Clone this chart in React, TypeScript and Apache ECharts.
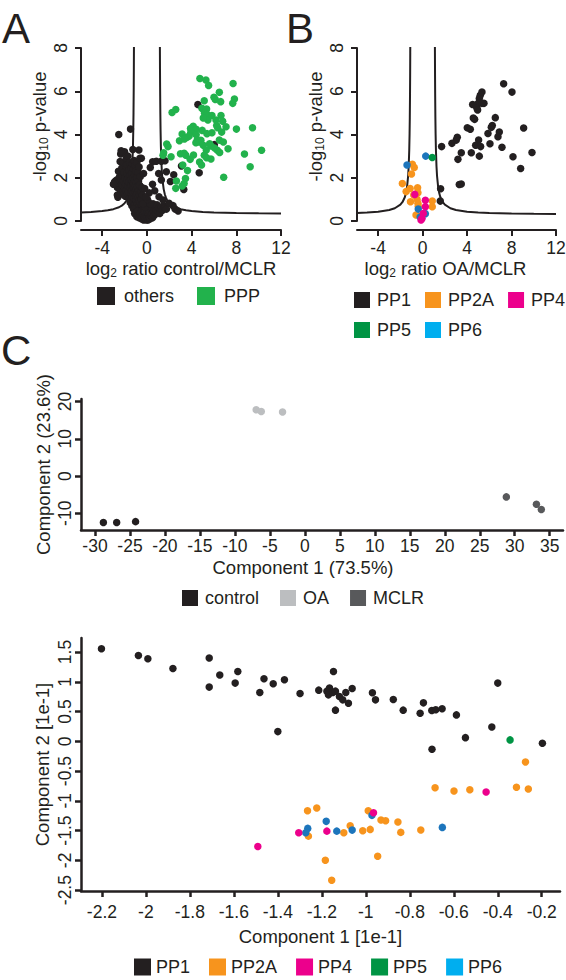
import React, { useEffect, useRef } from "react";
import * as echarts from "echarts";

const INK = "#231f20";
const FONT = "Liberation Sans";
const C_GREEN = "#22b24c";
const C_ORANGE = "#f7941d";
const C_PINK = "#ec008c";
const C_PP5 = "#009444";
const C_PP6_PT = "#1c75bc";
const C_PP6_LEG = "#00aeef";
const C_OA = "#bcbec0";
const C_MCLR = "#58595b";

// ---------- Panel A (volcano control/MCLR) ----------
const aOthers: number[][] = [
  [-2.8, 1.85], [-2.75, 1.7], [-2.7, 1.9], [-2.65, 1.55], [-2.6, 1.1], [-2.55, 2.3], [-2.5, 1.75], [-2.45, 2.05], [-2.4, 2.75], [-2.4, 1.45],
  [-2.35, 3.1], [-2.3, 1.9], [-2.3, 1.25], [-2.25, 2.45], [-2.2, 1.65], [-2.2, 2.1], [-2.15, 1.35], [-2.1, 2.7], [-2.1, 1.85], [-2.05, 2.25],
  [-2.0, 1.5], [-2.0, 3.2], [-1.95, 2.0], [-1.95, 1.15], [-1.9, 2.55], [-1.9, 1.7], [-1.85, 2.9], [-1.85, 1.4], [-1.8, 2.2], [-1.8, 1.9],
  [-1.75, 1.25], [-1.75, 2.6], [-1.7, 1.6], [-1.7, 3.0], [-1.65, 2.0], [-1.65, 1.35], [-1.6, 2.35], [-1.6, 1.8],
  [-1.55, 1.05], [-1.55, 2.7], [-1.5, 1.55], [-1.5, 2.1], [-1.5, 0.85], [-1.45, 1.3], [-1.45, 1.9], [-1.4, 2.45], [-1.4, 1.0], [-1.4, 1.65],
  [-1.35, 2.2], [-1.35, 0.7], [-1.35, 1.4], [-1.3, 1.85], [-1.3, 2.65], [-1.3, 1.1], [-1.25, 1.6], [-1.25, 2.0], [-1.25, 0.9], [-1.2, 2.4],
  [-1.2, 1.3], [-1.2, 1.75], [-1.15, 2.8], [-1.15, 1.5], [-1.15, 1.05], [-1.1, 2.1], [-1.1, 0.75], [-1.1, 1.9], [-1.05, 1.35], [-1.05, 2.55],
  [-1.05, 1.6], [-1.0, 1.15], [-1.0, 2.3], [-1.0, 0.6], [-0.95, 1.8], [-0.95, 1.45], [-0.95, 0.95], [-0.9, 2.0], [-0.9, 1.25], [-0.9, 2.7],
  [-0.85, 1.6], [-0.85, 0.8], [-0.8, 1.1], [-0.8, 2.25], [-0.8, 0.5], [-0.75, 1.4], [-0.75, 1.85], [-0.7, 0.95], [-0.7, 2.5], [-0.7, 0.65],
  [-0.65, 1.2], [-0.65, 1.65], [-0.6, 0.85], [-0.6, 2.05], [-0.55, 0.55], [-0.55, 1.35], [-0.5, 1.0], [-0.5, 2.9], [-0.45, 0.75], [-0.45, 1.55],
  [-0.4, 0.4], [-0.4, 1.2],
  [-1.2, 0.55], [-1.1, 0.35], [-1.0, 0.3], [-0.9, 0.2], [-0.85, 0.45], [-0.75, 0.25], [-0.7, 0.15], [-0.6, 0.35], [-0.55, 0.2], [-0.5, 0.1],
  [-0.45, 0.5], [-0.4, 0.15], [-0.35, 0.3], [-0.3, 0.05], [-0.3, 0.6], [-0.25, 0.2], [-0.2, 0.4], [-0.15, 0.1], [-0.1, 0.25], [-0.05, 0.05],
  [0.0, 0.35], [0.0, 0.15], [0.05, 0.5], [0.1, 0.05], [0.15, 0.3], [0.2, 0.15], [0.2, 0.7], [0.25, 0.45], [0.3, 0.1], [0.35, 0.25],
  [0.4, 0.55], [0.45, 0.35], [0.5, 0.15], [0.55, 0.8], [0.6, 0.45], [0.65, 0.25], [0.7, 0.6], [0.8, 0.35], [0.85, 0.5], [0.9, 0.75],
  [1.0, 0.45], [1.05, 0.6], [1.15, 0.35], [1.2, 0.55], [1.3, 0.65], [1.4, 0.5], [1.5, 0.7], [1.6, 0.6], [1.75, 0.55], [-0.15, 0.65],
  [-0.1, 0.85], [0.1, 0.9], [-0.35, 0.8], [0.3, 0.8], [0.05, 1.0],
  [-2.52, 4.0], [-1.47, 4.25], [-0.72, 3.28], [-1.26, 3.31], [-2.31, 3.25], [-0.63, 2.9], [4.56, 5.39], [6.03, 3.53], [4.68, 2.23], [3.09, 2.54],
  [3.3, 1.46], [2.4, 2.14], [0.51, 2.74], [0.84, 2.76], [1.29, 2.76], [1.62, 2.79], [0.3, 2.47], [1.05, 2.2], [1.74, 2.28], [1.29, 1.9],
  [2.1, 1.83], [2.52, 0.55], [2.34, 0.71], [2.79, 0.46], [1.98, 0.82], [1.44, 0.97], [1.08, 1.12], [0.2, 1.3], [0.5, 1.7], [-0.2, 1.5],
  [-0.3, 2.2], [-0.1, 1.1], [0.7, 1.4], [-2.9, 1.8], [-3.0, 1.7], [-2.65, 1.2],
];
const aPPP: number[][] = [
  [4.74, 6.59], [5.28, 6.52], [5.52, 6.27], [7.71, 6.36], [6.48, 5.95], [6.0, 5.72], [6.12, 5.62], [6.6, 5.52], [7.83, 5.64], [7.68, 5.44],
  [5.13, 5.56], [4.92, 5.21], [5.1, 5.12], [5.34, 5.18], [5.16, 4.98], [5.4, 4.92], [2.58, 5.16], [2.25, 5.02], [5.46, 4.67], [5.82, 4.88],
  [6.63, 4.88], [6.78, 4.61], [6.18, 4.67], [5.04, 4.76], [6.24, 4.42], [6.33, 4.31], [7.08, 4.36], [8.01, 4.25], [9.45, 4.31], [4.14, 4.38],
  [3.9, 4.28], [4.41, 4.24], [3.93, 4.1], [4.95, 4.19], [4.41, 3.99], [5.37, 4.04], [5.82, 4.08], [6.69, 4.11], [3.15, 4.02], [3.6, 3.87],
  [3.78, 3.93], [2.91, 3.71], [3.36, 3.79], [4.5, 3.74], [4.68, 3.65], [4.83, 3.73], [4.38, 3.62], [5.04, 3.5], [5.61, 3.57], [5.73, 3.47],
  [6.48, 3.74], [6.84, 3.65], [7.26, 3.34], [1.77, 3.56], [1.89, 3.44], [6.3, 3.27], [6.51, 3.17], [5.31, 3.28], [5.13, 3.04], [5.34, 2.93],
  [5.73, 2.87], [4.17, 3.05], [3.87, 2.85], [3.0, 3.11], [3.33, 3.13], [3.48, 3.04], [2.16, 2.97], [10.26, 3.27], [8.73, 3.1], [4.71, 2.73],
  [4.89, 2.59], [3.21, 2.59], [9.24, 2.51], [3.45, 1.96], [2.64, 1.85], [3.33, 1.73], [3.15, 1.62], [2.58, 1.51], [6.87, 2.02], [1.44, 3.04],
  [1.5, 3.16], [3.63, 2.33], [6.06, 3.37],
];
const aCurveL: number[][] = [
  [-5.9, 0.398], [-5, 0.42], [-4, 0.462], [-3.5, 0.496], [-3, 0.547], [-2.5, 0.636], [-2.25, 0.71], [-2, 0.82], [-1.8, 0.97], [-1.7, 1.08],
  [-1.6, 1.24], [-1.5, 1.475], [-1.4, 1.87], [-1.35, 2.18], [-1.3, 2.65], [-1.25, 3.43], [-1.22, 4.22], [-1.2, 5.0], [-1.18, 6.18], [-1.17, 7.01], [-1.16, 8.13],
];
const aCurveR: number[][] = [
  [1.16, 8.13], [1.17, 7.01], [1.18, 6.18], [1.2, 5.0], [1.22, 4.22], [1.25, 3.43], [1.3, 2.65], [1.35, 2.18], [1.4, 1.87], [1.5, 1.475],
  [1.6, 1.24], [1.7, 1.08], [1.8, 0.97], [2, 0.82], [2.25, 0.71], [2.5, 0.636], [3, 0.547], [3.5, 0.496], [4, 0.462], [5, 0.42],
  [6, 0.396], [8, 0.368], [10, 0.353], [12, 0.343],
];

// ---------- Panel B (volcano OA/MCLR) ----------
const bPP1: number[][] = [
  [7.29, 6.35], [8.04, 5.96], [5.34, 5.96], [5.19, 5.81], [5.1, 5.67], [5.52, 5.44], [5.01, 5.44], [4.5, 5.39], [4.89, 5.21], [4.95, 5.13],
  [4.56, 4.76], [4.68, 4.7], [6.54, 4.78], [6.27, 4.42], [6.18, 4.33], [9.09, 4.3], [4.02, 4.31], [4.29, 4.24], [5.88, 4.05], [6.9, 4.11],
  [6.78, 3.9], [5.04, 3.74], [3.12, 3.87], [3.03, 3.74], [2.64, 3.59], [4.77, 3.5], [5.22, 3.44], [6.06, 3.57], [7.14, 3.41], [1.71, 3.44],
  [3.48, 3.16], [4.38, 3.16], [5.1, 3.0], [8.13, 2.97], [9.84, 3.17], [3.18, 2.85], [8.82, 2.43], [3.48, 1.71], [3.3, 1.69], [1.62, 1.49],
  [1.59, 0.92], [5.34, 5.44],
];
const bPP2A: number[][] = [
  [-0.92, 2.62], [-0.75, 2.47], [-1.0, 2.17], [-1.82, 1.73], [-1.48, 1.36], [-1.12, 1.5], [-0.45, 1.54], [-0.42, 1.31], [-1.09, 0.89],
  [-0.5, 1.0], [-0.42, 0.82], [-0.39, 0.68], [0.87, 0.92], [0.87, 0.66], [-0.59, 0.28], [-0.2, 0.22], [0.15, 0.35], [-0.8, 1.2],
];
const bPP4: number[][] = [[-0.7, 1.23], [0.25, 0.96], [0.25, 0.66], [0.06, 0.35], [-0.06, 0.11], [-0.14, 0.05]];
const bPP5: number[][] = [[0.87, 2.94]];
const bPP6: number[][] = [[-1.4, 2.59], [0.28, 3.0], [-0.39, 0.55], [-0.22, 0.18], [0.25, 0.34], [-0.08, 0.12]];
const bCurveL: number[][] = [
  [-5.9, 0.373], [-5, 0.394], [-4, 0.433], [-3, 0.51], [-2.5, 0.59], [-2, 0.754], [-1.8, 0.88], [-1.6, 1.1], [-1.5, 1.28], [-1.4, 1.57],
  [-1.3, 2.08], [-1.25, 2.53], [-1.2, 3.28], [-1.17, 4.03], [-1.15, 4.78], [-1.13, 5.9], [-1.12, 6.71], [-1.11, 7.78], [-1.1, 9.28],
];
const bCurveR: number[][] = [
  [1.1, 9.28], [1.11, 7.78], [1.12, 6.71], [1.13, 5.9], [1.15, 4.78], [1.17, 4.03], [1.2, 3.28], [1.25, 2.53], [1.3, 2.08], [1.4, 1.57],
  [1.5, 1.28], [1.6, 1.1], [1.8, 0.88], [2, 0.754], [2.5, 0.59], [3, 0.51], [4, 0.433], [5, 0.394], [6, 0.371], [8, 0.345], [10, 0.33], [12, 0.321],
];

// ---------- Panel C (PCA of samples) ----------
const cControl: number[][] = [[-28.8, -12.5], [-26.9, -12.5], [-24.2, -12.25]];
const cOA: number[][] = [[-6.96, 17.8], [-6.23, 17.35], [-3.19, 17.2]];
const cMCLR: number[][] = [[28.8, -5.6], [33.1, -7.6], [33.8, -9.0]];

// ---------- Panel D (PCA of phosphatases) ----------
const dPP1: number[][] = [
  [-2.202, 1.556], [-2.034, 1.443], [-1.991, 1.387], [-1.877, 1.224], [-1.712, 1.399], [-1.712, 0.911], [-1.664, 1.113], [-1.594, 0.978],
  [-1.582, 1.174], [-1.482, 0.82], [-1.463, 1.05], [-1.421, 0.966], [-1.4, 0.163], [-1.37, 1.034], [-1.299, 0.803], [-1.214, 0.86],
  [-1.177, 0.843], [-1.165, 0.894], [-1.147, 1.174], [-1.17, 0.781], [-1.15, 0.82], [-1.138, 0.843], [-1.138, 0.524], [-1.12, 0.753],
  [-1.105, 0.697], [-1.091, 0.82], [-1.079, 0.641], [-1.062, 0.887], [-0.97, 0.815], [-0.956, 0.697], [-0.875, 0.702], [-0.83, 0.524],
  [-0.753, 0.473], [-0.738, 0.646], [-0.7, 0.517], [-0.682, 0.529], [-0.653, 0.546], [-0.699, -0.133], [-0.588, 0.444], [-0.547, 0.062],
  [-0.427, 0.242], [-0.4, 0.978], [-0.197, -0.032],
];
const dPP2A: number[][] = [
  [-0.274, -0.347], [-0.685, -0.779], [-0.599, -0.835], [-0.527, -0.813], [-0.315, -0.773], [-0.261, -0.801], [-1.265, -1.167],
  [-1.223, -1.121], [-1.261, -1.593], [-1.1, -1.537], [-1.071, -1.419], [-1.184, -1.997], [-1.155, -2.333], [-0.989, -1.167],
  [-1.014, -1.503], [-0.98, -1.48], [-0.931, -1.323], [-0.91, -1.335], [-0.854, -1.357], [-0.841, -1.53], [-0.75, -1.491], [-0.946, -1.93],
];
const dPP4: number[][] = [[-0.453, -0.852], [-1.305, -1.537], [-1.177, -1.509], [-1.491, -1.766], [-0.965, -1.2]];
const dPP5: number[][] = [[-0.344, 0.024]];
const dPP6: number[][] = [[-1.18, -1.345], [-1.264, -1.463], [-1.273, -1.537], [-1.132, -1.509], [-1.062, -1.492], [-0.972, -1.244], [-0.652, -1.446]];

// ---------- ticks ----------
const xTicksAB = [-4, 0, 4, 8, 12];
const yTicksAB = [0, 2, 4, 6, 8];
const xTicksC = [-30, -25, -20, -15, -10, -5, 0, 5, 10, 15, 20, 25, 30, 35];
const yTicksC = [-10, 0, 10, 20];
const xTicksD = [-2.2, -2, -1.8, -1.6, -1.4, -1.2, -1, -0.8, -0.6, -0.4, -0.2];
const yTicksD = [-2.5, -2, -1.5, -1, -0.5, 0, 0.5, 1, 1.5];

const rich = {
  n: { fontSize: 18.5, lineHeight: 22, fontFamily: FONT, color: INK },
  s: { fontSize: 12, lineHeight: 12, verticalAlign: "bottom", fontFamily: FONT, color: INK },
};

function axis(o: any) {
  const lw = o.lw ?? 2;
  return {
    type: "value",
    gridIndex: o.grid,
    min: o.min,
    max: o.max,
    offset: o.offset ?? 0,
    splitLine: { show: false },
    axisLine: { show: true, onZero: false, lineStyle: { color: INK, width: lw } },
    axisTick: { show: true, length: 6, lineStyle: { color: INK, width: lw }, customValues: o.ticks },
    axisLabel: {
      show: o.showLabel !== false,
      customValues: o.ticks,
      margin: o.margin ?? 8,
      color: INK,
      fontSize: 17.5,
      fontFamily: FONT,
    },
    name: o.name,
    nameLocation: "middle",
    nameGap: o.nameGap,
    nameTextStyle: { color: INK, fontFamily: FONT, fontSize: 18.5, padding: o.namePad ?? 0, rich },
  };
}

// rotated y tick labels, placed through the axis scale
function yLabels(idx: number, xAt: number, ticks: number[], dx: number) {
  return {
    type: "custom",
    name: "ylab" + idx,
    xAxisIndex: idx,
    yAxisIndex: idx,
    clip: false,
    silent: true,
    z: 5,
    data: ticks.map((v) => [xAt, v]),
    renderItem: (_params: any, api: any) => {
      const p = api.coord([api.value(0), api.value(1)]);
      return {
        type: "text",
        x: p[0] - dx,
        y: p[1],
        rotation: Math.PI / 2,
        style: {
          text: String(api.value(1)),
          fontSize: 17.5,
          fontFamily: FONT,
          fill: INK,
          align: "center",
          verticalAlign: "middle",
        },
      };
    },
  };
}

function scatter(name: string, data: number[][], idx: number, color: string, z = 3) {
  return {
    type: "scatter",
    name,
    data,
    xAxisIndex: idx,
    yAxisIndex: idx,
    symbol: "circle",
    symbolSize: 7.5,
    itemStyle: { color, opacity: 1 },
    z,
    silent: true,
  };
}

function curve(name: string, data: number[][], idx: number) {
  return {
    type: "line",
    name,
    data,
    xAxisIndex: idx,
    yAxisIndex: idx,
    showSymbol: false,
    symbol: "none",
    lineStyle: { color: INK, width: 2 },
    clip: true,
    z: 2,
    silent: true,
  };
}

const legendText = (pad: number) => ({ color: INK, fontSize: 18, fontFamily: FONT, padding: [0, 0, 0, pad] });

const option: any = {
  animation: false,
  backgroundColor: "#ffffff",
  grid: [
    { left: 81, top: 48, width: 200, height: 173, containLabel: false, outerBoundsMode: "none" },
    { left: 357, top: 48, width: 199, height: 173, containLabel: false, outerBoundsMode: "none" },
    { left: 81, top: 399, width: 482, height: 131, containLabel: false, outerBoundsMode: "none" },
    { left: 81, top: 638, width: 479, height: 253, containLabel: false, outerBoundsMode: "none" },
  ],
  xAxis: [
    axis({ grid: 0, min: -5.9, max: 12, offset: 9, ticks: xTicksAB, margin: 9, name: "{n|log}{s|2}{n| ratio control/MCLR}", nameGap: 27 }),
    axis({ grid: 1, min: -5.9, max: 12, offset: 9, ticks: xTicksAB, margin: 9, name: "{n|log}{s|2}{n| ratio OA/MCLR}", nameGap: 27, namePad: [0, 22, 0, 0] }),
    axis({ grid: 2, min: -32, max: 36.9, ticks: xTicksC, margin: 7, lw: 2.5, name: "{n|Component 1 (73.5%)}", nameGap: 26, namePad: [0, 38, 0, 0] }),
    axis({ grid: 3, min: -2.295, max: -0.117, ticks: xTicksD, margin: 12, lw: 2.5, name: "{n|Component 1 [1e-1]}", nameGap: 34 }),
  ],
  yAxis: [
    axis({ grid: 0, min: 0, max: 8, ticks: yTicksAB, showLabel: false, name: "{n|-log}{s|10}{n| p-value}", nameGap: 31, namePad: [0, 0, 0, 16] }),
    axis({ grid: 1, min: 0, max: 8, ticks: yTicksAB, showLabel: false, name: "{n|-log}{s|10}{n| p-value}", nameGap: 31, namePad: [0, 0, 0, 16] }),
    axis({ grid: 2, min: -14.5, max: 20.7, ticks: yTicksC, showLabel: false, lw: 2.5, name: "{n|Component 2 (23.6%)}", nameGap: 27 }),
    axis({ grid: 3, min: -2.515, max: 1.736, ticks: yTicksD, showLabel: false, lw: 2.5, name: "{n|Component 2 [1e-1]}", nameGap: 28 }),
  ],
  legend: [
    {
      left: 97, top: 287, padding: 0, itemWidth: 18, itemHeight: 18, itemGap: 23, icon: "rect", selectedMode: false,
      textStyle: legendText(4), data: ["others", "PPP"],
    },
    {
      left: 354, top: 291, padding: 0, itemWidth: 16, itemHeight: 16, itemGap: 14, icon: "rect", selectedMode: false,
      textStyle: legendText(2), data: ["PP1", "PP2A", "PP4"],
    },
    {
      left: 354, top: 321, padding: 0, itemWidth: 16, itemHeight: 16, itemGap: 14, icon: "rect", selectedMode: false,
      textStyle: legendText(2), data: ["PP5", { name: "PP6", itemStyle: { color: C_PP6_LEG } }],
    },
    {
      left: 182, top: 589, padding: 0, itemWidth: 16, itemHeight: 16, itemGap: 21, icon: "rect", selectedMode: false,
      textStyle: legendText(2), data: ["control", "OA", "MCLR"],
    },
    {
      left: 134, top: 958, padding: 0, itemWidth: 17, itemHeight: 17, itemGap: 19, icon: "rect", selectedMode: false,
      textStyle: legendText(0), data: ["PP1", "PP2A", "PP4", "PP5", { name: "PP6", itemStyle: { color: C_PP6_LEG } }],
    },
  ],
  graphic: [
    { type: "text", x: 2, y: 28, style: { text: "A", fontSize: 42, fontFamily: FONT, fill: INK, verticalAlign: "middle" } },
    { type: "text", x: 286, y: 28, style: { text: "B", fontSize: 42, fontFamily: FONT, fill: INK, verticalAlign: "middle" } },
    { type: "text", x: 1, y: 350, style: { text: "C", fontSize: 42, fontFamily: FONT, fill: INK, verticalAlign: "middle" } },
  ],
  series: [
    curve("thrA1", aCurveL, 0),
    curve("thrA2", aCurveR, 0),
    scatter("others", aOthers, 0, INK),
    scatter("PPP", aPPP, 0, C_GREEN),
    curve("thrB1", bCurveL, 1),
    curve("thrB2", bCurveR, 1),
    scatter("PP1", bPP1, 1, INK),
    scatter("PP2A", bPP2A, 1, C_ORANGE),
    scatter("PP6", bPP6, 1, C_PP6_PT),
    scatter("PP4", bPP4, 1, C_PINK),
    scatter("PP5", bPP5, 1, C_PP5),
    scatter("control", cControl, 2, INK),
    scatter("OA", cOA, 2, C_OA),
    scatter("MCLR", cMCLR, 2, C_MCLR),
    scatter("PP1", dPP1, 3, INK),
    scatter("PP2A", dPP2A, 3, C_ORANGE),
    scatter("PP6", dPP6, 3, C_PP6_PT),
    scatter("PP4", dPP4, 3, C_PINK),
    scatter("PP5", dPP5, 3, C_PP5),
    yLabels(0, -5.9, yTicksAB, 20.5),
    yLabels(1, -5.9, yTicksAB, 20.5),
    yLabels(2, -14.5 < 0 ? -32 : -32, yTicksC, 16.5),
    yLabels(3, -2.295, yTicksD, 16.5),
  ],
};

export default function App() {
  const ref = useRef<HTMLDivElement>(null);
  useEffect(() => {
    document.body.style.margin = "0";
    const chart = echarts.init(ref.current as HTMLDivElement, null, { renderer: "svg" });
    chart.setOption(option);
    return () => chart.dispose();
  }, []);
  return (
    <div
      ref={ref}
      style={{ width: 566, height: 980, position: "absolute", left: 0, top: 0, background: "#ffffff" }}
    />
  );
}
